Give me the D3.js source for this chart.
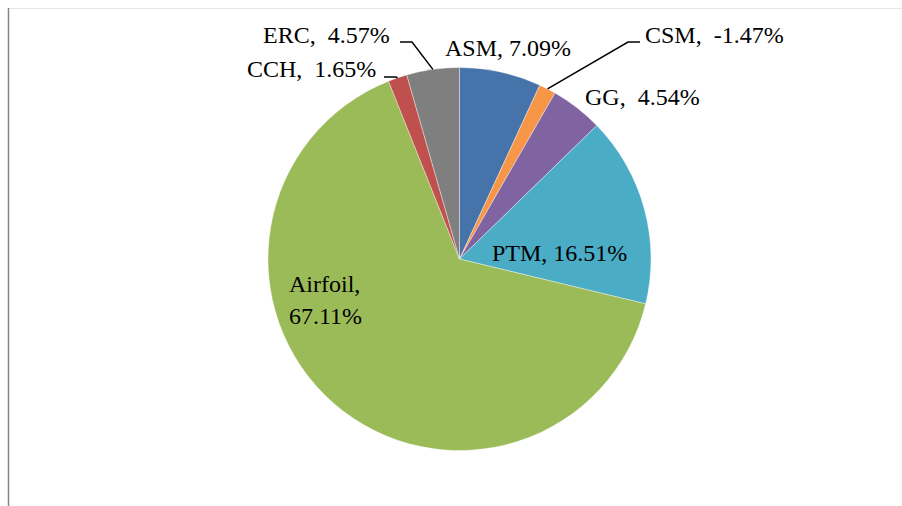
<!DOCTYPE html>
<html>
<head>
<meta charset="utf-8">
<script src="https://cdn.jsdelivr.net/npm/d3@7"></script>
<style>
  body { margin: 0; background: #fff; }
  text { font-family: "Liberation Serif", "Times New Roman", serif; font-size: 24px; fill: #000; white-space: pre; }
</style>
</head>
<body>
<div id="chart"></div>
<script>
// data (clockwise from 12 o'clock)
const categories = ['ASM', 'CSM', 'GG', 'PTM', 'Airfoil', 'CCH', 'ERC'];
const shares = [7.09, -1.47, 4.54, 16.51, 67.11, 1.65, 4.57];
const sliceColors = ['#4673a9', '#f79646', '#8064a2', '#4bacc6', '#9bbb59', '#c0504d', '#7f7f7f'];

// chart size
const width = 902, height = 506;
const cx = 459.5, cy = 259, radius = 191.5;

// label layout (text start x, first baseline y, leader elbow), kept apart from the data
const labelLayout = {
    ASM:     { x: 445, y: 56, sep: ', ' },
    CSM:     { x: 645, y: 43, sep: ',  ', elbow: [628, 42], end: [640, 42] },
    GG:      { x: 585, y: 105, sep: ',  ' },
    PTM:     { x: 492, y: 261, sep: ', ' },
    Airfoil: { x: 289, y: 292, sep: ',', twoLines: true },
    CCH:     { x: 247, y: 77, sep: ',  ', elbow: [396, 77], end: [384, 77] },
    ERC:     { x: 263, y: 43, sep: ',  ', elbow: [412, 42], end: [400, 42] }
};

let data = categories.map(function(c, i) { return { name: c, value: shares[i], color: sliceColors[i] }; });

let svg = d3.select("#chart")
    .append("svg")
    .attr("width", width)
    .attr("height", height);

// frame edges as seen in the picture
svg.append("line")
    .attr("x1", 9).attr("x2", width).attr("y1", 8.5).attr("y2", 8.5)
    .attr("stroke", "#e6e6e6").attr("stroke-width", 1);
svg.append("line")
    .attr("x1", 8.5).attr("x2", 8.5).attr("y1", 8).attr("y2", height)
    .attr("stroke", "#868686").attr("stroke-width", 1.5);

// pie uses absolute sizes (negative share drawn as its magnitude)
let pie = d3.pie()
    .sort(null)
    .value(function(d) { return Math.abs(d.value); });

let arc = d3.arc().innerRadius(0).outerRadius(radius);

let g = svg.append("g").attr("transform", "translate(" + cx + "," + cy + ")");
let arcs = pie(data);

g.selectAll("path.slice")
    .data(arcs)
    .enter()
    .append("path")
    .attr("class", "slice")
    .attr("d", arc)
    .attr("fill", function(d) { return d.data.color; })
    .attr("stroke", "#ffffff")
    .attr("stroke-opacity", 0.5)
    .attr("stroke-width", 0.75);

// leader lines
arcs.forEach(function(a) {
    let lay = labelLayout[a.data.name];
    if (!lay.elbow) return;
    let mid = (a.startAngle + a.endAngle) / 2;
    let px = cx + radius * Math.sin(mid), py = cy - radius * Math.cos(mid);
    svg.append("path")
        .attr("d", "M" + px + "," + py + "L" + lay.elbow[0] + "," + lay.elbow[1] + "L" + lay.end[0] + "," + lay.end[1])
        .attr("fill", "none")
        .attr("stroke", "#000")
        .attr("stroke-width", 1.5);
});

// labels
arcs.forEach(function(a) {
    let lay = labelLayout[a.data.name];
    let pct = a.data.value.toFixed(2) + "%";
    let t = svg.append("text").attr("x", lay.x).attr("y", lay.y);
    if (lay.twoLines) {
        t.append("tspan").attr("x", lay.x).text(a.data.name + lay.sep);
        t.append("tspan").attr("x", lay.x).attr("dy", 32).text(pct);
    } else {
        t.text(a.data.name + lay.sep + pct);
    }
});
</script>
</body>
</html>
